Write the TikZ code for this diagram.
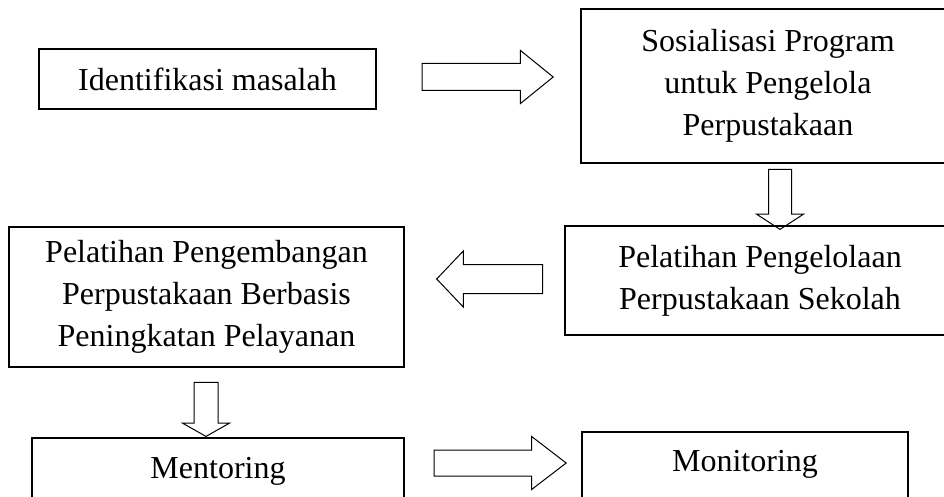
\documentclass[tikz,border=0pt]{standalone}
\usepackage{fontspec}
\setmainfont{Liberation Serif}
\usetikzlibrary{shapes.arrows}

\begin{document}
\begin{tikzpicture}[x=1pt, y=-1pt,
    box/.style={draw, line width=1.6pt, align=center, inner sep=0pt,
      font=\fontsize{32}{42}\selectfont},
    blockarrow/.style={single arrow, draw, line width=1pt, inner sep=0pt,
      single arrow head indent=0pt, anchor=tip}]
    % Frame of the picture
    \useasboundingbox (0,0) rectangle (944,497);
    \clip (0,0) rectangle (944,497);

    % Define the steps
    \node[box, minimum width=337pt, minimum height=60pt] (ident) at (207.5,79) {Identifikasi masalah};
    \node[box, minimum width=374pt, minimum height=154pt] (sosial) at (768,86) {Sosialisasi Program\\untuk Pengelola\\Perpustakaan};
    \node[box, minimum width=390pt, minimum height=109pt] (kelola) at (760,280.5) {Pelatihan Pengelolaan\\Perpustakaan Sekolah};
    \node[box, minimum width=395pt, minimum height=140pt] (kembang) at (206.5,297) {Pelatihan Pengembangan\\Perpustakaan Berbasis\\Peningkatan Pelayanan};
    \node[box, anchor=north, minimum width=372pt, text height=41pt, text depth=60pt] (mentor) at (218,437) {Mentoring};
    \node[box, anchor=north, minimum width=326pt, text height=40pt, text depth=70pt] (monitor) at (745,431) {Monitoring};

    % Draw block arrows between the steps (placed by their tips)
    \node[blockarrow, minimum height=131pt, inner ysep=13pt, single arrow head extend=13pt, single arrow tip angle=78] (identtososial) at (554,77) {};
    \node[blockarrow, shape border rotate=270, minimum height=60pt, inner xsep=11pt, single arrow head extend=12pt, single arrow tip angle=114] (sosialtokelola) at (780,230) {};
    \node[blockarrow, shape border rotate=180, minimum height=106pt, inner ysep=14pt, single arrow head extend=13.5pt, single arrow tip angle=93] (kelolatokembang) at (436,279) {};
    \node[blockarrow, shape border rotate=270, minimum height=54pt, inner xsep=11.5pt, single arrow head extend=11.5pt, single arrow tip angle=121] (kembangtomentor) at (206,437) {};
    \node[blockarrow, minimum height=132pt, inner ysep=12.5pt, single arrow head extend=13.5pt, single arrow tip angle=75] (mentortomonitor) at (567,463) {};
\end{tikzpicture}
\end{document}
